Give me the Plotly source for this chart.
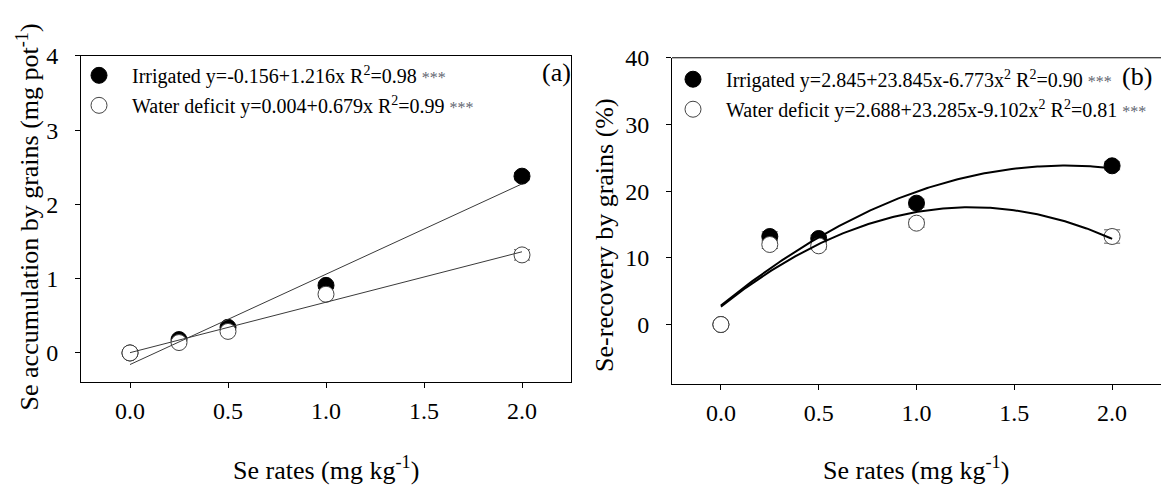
import numpy as np
import plotly.graph_objects as go

# ---------------- data ----------------
se_rates = [0.0, 0.25, 0.5, 1.0, 2.0]

# Panel (a): Se accumulation by grains (mg pot-1)
acc_irrigated = [0.0, 0.18, 0.345, 0.91, 2.38]
acc_irrigated_err = [0.0, 0.02, 0.03, 0.04, 0.05]
acc_deficit = [0.0, 0.14, 0.29, 0.79, 1.32]
acc_deficit_err = [0.0, 0.02, 0.02, 0.03, 0.07]
acc_fit_irrigated = [-0.156, 1.216]          # intercept, slope
acc_fit_deficit = [0.004, 0.679]

# Panel (b): Se-recovery by grains (%)
rec_irrigated = [0.0, 13.2, 12.9, 18.2, 23.8]
rec_irrigated_err = [0.0, 0.7, 0.5, 0.6, 0.6]
rec_deficit = [0.0, 12.0, 11.8, 15.2, 13.2]
rec_deficit_err = [0.0, 0.6, 0.5, 0.6, 1.0]
rec_fit_irrigated = [2.845, 23.845, -6.773]  # c0, c1, c2
rec_fit_deficit = [2.688, 23.285, -9.102]

x_ticks = [0.0, 0.5, 1.0, 1.5, 2.0]
leg_a = ["Irrigated y=-0.156+1.216x R<sup>2</sup>=0.98 ",
         "Water deficit y=0.004+0.679x R<sup>2</sup>=0.99 "]
leg_b = ["Irrigated y=2.845+23.845x-6.773x<sup>2</sup> R<sup>2</sup>=0.90 ",
         "Water deficit y=2.688+23.285x-9.102x<sup>2</sup> R<sup>2</sup>=0.81 "]
stars = '<span style="color:#5f6670;font-size:16px">***</span>'

FONT = "Liberation Serif"
W, H = 1161, 489

xf = np.linspace(0, 2, 200)
def poly(c, x):
    return sum(ci * x ** i for i, ci in enumerate(c))

fig = go.Figure()

def add_points(x, y, err, filled, xa, ya, name, legend, group):
    fig.add_trace(go.Scatter(
        x=x, y=y, mode="markers", name=name, legend=legend, legendgroup=group,
        xaxis=xa, yaxis=ya,
        error_y=dict(type="data", array=err, visible=True, color="#555555",
                     thickness=1, width=8),
        marker=dict(symbol="circle", size=16,
                    color="black" if filled else "white",
                    line=dict(color="black" if filled else "#444444", width=1)),
    ))

# panel a
add_points(se_rates, acc_irrigated, acc_irrigated_err, True, "x", "y",
           leg_a[0] + stars, "legend", "a1")
add_points(se_rates, acc_deficit, acc_deficit_err, False, "x", "y",
           leg_a[1] + stars, "legend", "a2")
for c in (acc_fit_irrigated, acc_fit_deficit):
    fig.add_trace(go.Scatter(x=xf, y=poly(c, xf), mode="lines", showlegend=False,
                             line=dict(color="#3a3a3a", width=1), xaxis="x", yaxis="y"))

# panel b
add_points(se_rates, rec_irrigated, rec_irrigated_err, True, "x2", "y2",
           leg_b[0] + stars, "legend2", "b1")
add_points(se_rates, rec_deficit, rec_deficit_err, False, "x2", "y2",
           leg_b[1] + stars, "legend2", "b2")
for c in (rec_fit_irrigated, rec_fit_deficit):
    fig.add_trace(go.Scatter(x=xf, y=poly(c, xf), mode="lines", showlegend=False,
                             line=dict(color="black", width=2), xaxis="x2", yaxis="y2"))

tickfont = dict(family=FONT, size=24, color="black")
axis_common = dict(showgrid=False, zeroline=False, showline=True, linecolor="black",
                   linewidth=1, ticks="outside", ticklen=5, tickcolor="black",
                   tickfont=tickfont)

legend_common = dict(xanchor="left", yanchor="top", bgcolor="rgba(0,0,0,0)",
                     font=dict(family=FONT, size=20, color="black"),
                     itemwidth=56, traceorder="grouped", tracegroupgap=1)

fig.update_layout(
    width=W, height=H, margin=dict(l=0, r=0, t=0, b=0),
    paper_bgcolor="white", plot_bgcolor="white",
    xaxis=dict(domain=[81 / W, 571 / W], range=[-0.25, 2.25], tickvals=x_ticks,
               tickformat=".1f", anchor="y", mirror=True, ticklabelstandoff=2,
               **axis_common),
    yaxis=dict(domain=[1 - 379 / H, 1 - 44 / H], range=[-0.39, 4], dtick=1,
               anchor="x", mirror=True, ticklabelstandoff=12, **axis_common),
    xaxis2=dict(domain=[672 / W, 1.0], range=[-0.25, 2.25], tickvals=x_ticks,
                tickformat=".1f", anchor="y2", ticklabelstandoff=2, **axis_common),
    yaxis2=dict(domain=[1 - 381 / H, 1 - 46 / H], range=[-8.9, 40], dtick=10,
                anchor="x2", ticklabelstandoff=12, **axis_common),
    legend=dict(x=66 / W, y=1 - 44 / H, **legend_common),
    legend2=dict(x=660 / W, y=1 - 48 / H, **legend_common),
    showlegend=True,
)

# top border for panel b (right edge falls off the page)
fig.add_shape(type="line", xref="x2 domain", yref="y2 domain", x0=0, x1=1, y0=1, y1=1,
              line=dict(color="black", width=1))

title_font = dict(family=FONT, size=26, color="black")
annots = [
    dict(text="Se rates (mg kg<sup>-1</sup>)", x=326 / W, y=1 - 468 / H, textangle=0),
    dict(text="Se rates (mg kg<sup>-1</sup>)", x=916 / W, y=1 - 468 / H, textangle=0),
    dict(text="Se accumulation by grains (mg pot<sup>-1</sup>)", x=28 / W, y=1 - 210 / H, textangle=-90),
    dict(text="Se-recovery by grains (%)", x=605 / W, y=1 - 228 / H, textangle=-90),
    dict(text="(a)", x=556 / W, y=1 - 61 / H, textangle=0),
    dict(text="(b)", x=1137 / W, y=1 - 65 / H, textangle=0),
]
for a in annots:
    fig.add_annotation(xref="paper", yref="paper", xanchor="center", yanchor="middle",
                       showarrow=False, font=title_font, **a)

fig.write_html("out.html")
